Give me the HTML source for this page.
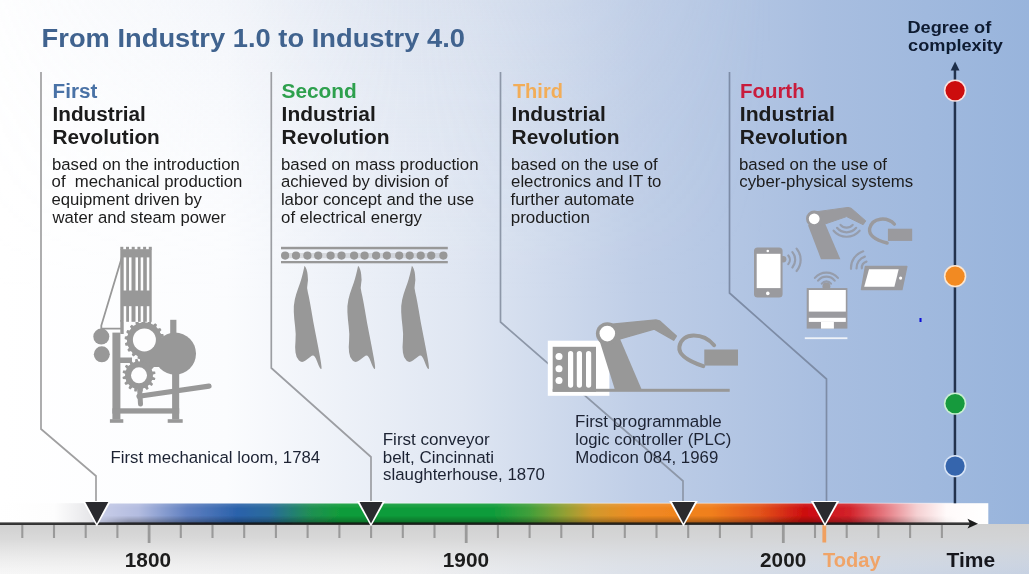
<!DOCTYPE html>
<html>
<head>
<meta charset="utf-8">
<title>From Industry 1.0 to Industry 4.0</title>
<style>
html,body{margin:0;padding:0;background:#fff;}
body{width:1029px;height:574px;overflow:hidden;font-family:"Liberation Sans",sans-serif;}
svg{display:block;}
text{font-family:"Liberation Sans",sans-serif;}
.h{font-weight:bold;font-size:19.5px;}
.b{font-size:16.7px;fill:#1c1c1c;}
.c{font-size:16.7px;fill:#1c2333;}
.ttl{font-weight:bold;font-size:25.4px;fill:#41638f;}
.ax{font-weight:bold;font-size:16.4px;fill:#0f1a30;}
.yr{font-weight:bold;font-size:20px;fill:#1a1a1a;}
</style>
</head>
<body>
<svg width="1029" height="574" viewBox="0 0 1029 574">
<defs>
  <linearGradient id="bgH" x1="0" y1="0" x2="1" y2="0">
    <stop offset="0" stop-color="#ffffff"/>
    <stop offset="0.22" stop-color="#fbfcfe"/>
    <stop offset="0.45" stop-color="#dfe6f2"/>
    <stop offset="0.62" stop-color="#bfcee7"/>
    <stop offset="0.8" stop-color="#a8bee0"/>
    <stop offset="1" stop-color="#98b4dc"/>
  </linearGradient>
  <linearGradient id="bgV" x1="0" y1="0" x2="0" y2="1">
    <stop offset="0" stop-color="#ccd6e8" stop-opacity="0.3"/>
    <stop offset="0.4" stop-color="#d8e0ee" stop-opacity="0.15"/>
    <stop offset="1" stop-color="#ffffff" stop-opacity="0"/>
  </linearGradient>
  <linearGradient id="bgVm" x1="0" y1="0" x2="1" y2="0">
    <stop offset="0" stop-color="#fff" stop-opacity="0.12"/>
    <stop offset="0.15" stop-color="#fff" stop-opacity="0.35"/>
    <stop offset="0.4" stop-color="#fff" stop-opacity="1"/>
    <stop offset="0.55" stop-color="#fff" stop-opacity="0.6"/>
    <stop offset="0.75" stop-color="#fff" stop-opacity="0"/>
  </linearGradient>
  <mask id="leftMask"><rect x="0" y="0" width="1029" height="574" fill="url(#bgVm)"/></mask>
  <linearGradient id="bot" x1="0" y1="0" x2="1" y2="0">
    <stop offset="0" stop-color="#f7f7f7"/>
    <stop offset="0.4" stop-color="#f0f0f1"/>
    <stop offset="0.6" stop-color="#dde2ea"/>
    <stop offset="1" stop-color="#c6d1e2"/>
  </linearGradient>
  <linearGradient id="botR" x1="0" y1="0" x2="0" y2="1">
    <stop offset="0" stop-color="#d0d0d0" stop-opacity="1"/>
    <stop offset="0.3" stop-color="#d4d4d4" stop-opacity="0.85"/>
    <stop offset="0.7" stop-color="#dadada" stop-opacity="0.35"/>
    <stop offset="1" stop-color="#e0e0e0" stop-opacity="0"/>
  </linearGradient>
  <linearGradient id="bar" gradientUnits="userSpaceOnUse" x1="0" y1="0" x2="988" y2="0">
    <stop offset="0" stop-color="#ffffff"/>
    <stop offset="0.055" stop-color="#fdfdfd"/>
    <stop offset="0.092" stop-color="#e6e6e9"/>
    <stop offset="0.1" stop-color="#c9cee8"/>
    <stop offset="0.14" stop-color="#b3bce0"/>
    <stop offset="0.19" stop-color="#5f7fc0"/>
    <stop offset="0.24" stop-color="#2b62ab"/>
    <stop offset="0.272" stop-color="#2a6a9c"/>
    <stop offset="0.315" stop-color="#1f9052"/>
    <stop offset="0.345" stop-color="#109c3a"/>
    <stop offset="0.50" stop-color="#109c3a"/>
    <stop offset="0.535" stop-color="#3f9f3a"/>
    <stop offset="0.57" stop-color="#8fa034"/>
    <stop offset="0.60" stop-color="#d2992c"/>
    <stop offset="0.645" stop-color="#f08a22"/>
    <stop offset="0.72" stop-color="#f07f1c"/>
    <stop offset="0.77" stop-color="#e2521a"/>
    <stop offset="0.815" stop-color="#cc0c10"/>
    <stop offset="0.86" stop-color="#d2222a"/>
    <stop offset="0.895" stop-color="#e57880"/>
    <stop offset="0.928" stop-color="#f5d0d2"/>
    <stop offset="0.958" stop-color="#fffafa"/>
    <stop offset="1" stop-color="#ffffff"/>
  </linearGradient>
  <linearGradient id="barShade" x1="0" y1="0" x2="0" y2="1">
    <stop offset="0" stop-color="#fff" stop-opacity="0.12"/>
    <stop offset="0.25" stop-color="#fff" stop-opacity="0"/>
    <stop offset="0.6" stop-color="#000" stop-opacity="0"/>
    <stop offset="1" stop-color="#000" stop-opacity="0.35"/>
  </linearGradient>
  <linearGradient id="shadeM" gradientUnits="userSpaceOnUse" x1="0" y1="0" x2="988" y2="0">
    <stop offset="0.09" stop-color="#fff" stop-opacity="0"/>
    <stop offset="0.13" stop-color="#fff" stop-opacity="1"/>
    <stop offset="0.88" stop-color="#fff" stop-opacity="1"/>
    <stop offset="0.97" stop-color="#fff" stop-opacity="0"/>
  </linearGradient>
  <mask id="shadeMask" maskUnits="userSpaceOnUse" x="0" y="490" width="1029" height="50"><rect x="0" y="490" width="1029" height="50" fill="url(#shadeM)"/></mask>
  <filter id="soft" filterUnits="userSpaceOnUse" x="-20" y="-20" width="1069" height="614">
    <feGaussianBlur stdDeviation="0.55"/>
  </filter>
</defs>

<!-- background -->
<rect x="0" y="0" width="1029" height="574" fill="url(#bgH)"/>
<rect x="0" y="0" width="1029" height="300" fill="url(#bgV)" mask="url(#leftMask)"/>

<g filter="url(#soft)">
<!-- bottom strip -->
<rect x="-10" y="524" width="1049" height="60" fill="url(#bot)"/>
<rect x="-10" y="524" width="1049" height="50" fill="url(#botR)"/>

<!-- SEPARATORS -->
<g id="seps" fill="none" stroke-width="1.7">
  <polyline points="41,72 41,429 96,476 96,503" stroke="#a0a0a1"/>
  <polyline points="271.3,72 271.3,368 371,457 371,503" stroke="#9c9ea3"/>
  <polyline points="500.5,72 500.5,322 683,481 683,503" stroke="#8d97a8"/>
  <polyline points="729.5,72 729.5,293 826.5,379 826.5,503" stroke="#7d8ca6"/>
</g>

<!-- TIMELINE -->
<g id="timeline">
  <rect x="-10" y="503.2" width="998.3" height="20.8" fill="url(#bar)"/>
  <rect x="80" y="503.2" width="900" height="20.8" fill="url(#barShade)" mask="url(#shadeMask)"/>
  <rect x="96" y="502.7" width="860" height="1.2" fill="#ffffff" fill-opacity="0.4"/>
  <rect x="-10" y="522.4" width="982" height="2.6" fill="#161616" fill-opacity="0.85"/>
  <polygon points="978,523.7 967.5,518.8 970,523.7 967.5,528.6" fill="#1f1f1f"/>
</g>

<!-- TICKS -->
<g id="ticks" stroke="#9a9a9a" stroke-width="2.1">
  <line x1="22.3" y1="525" x2="22.3" y2="538"/>
  <line x1="54.0" y1="525" x2="54.0" y2="538"/>
  <line x1="85.7" y1="525" x2="85.7" y2="538"/>
  <line x1="117.4" y1="525" x2="117.4" y2="538"/>
  <line x1="149.1" y1="525" x2="149.1" y2="543" stroke-width="2.8"/>
  <line x1="180.8" y1="525" x2="180.8" y2="538"/>
  <line x1="212.5" y1="525" x2="212.5" y2="538"/>
  <line x1="244.2" y1="525" x2="244.2" y2="538"/>
  <line x1="275.9" y1="525" x2="275.9" y2="538"/>
  <line x1="307.6" y1="525" x2="307.6" y2="538"/>
  <line x1="339.4" y1="525" x2="339.4" y2="538"/>
  <line x1="371.1" y1="525" x2="371.1" y2="538"/>
  <line x1="402.8" y1="525" x2="402.8" y2="538"/>
  <line x1="434.5" y1="525" x2="434.5" y2="538"/>
  <line x1="466.2" y1="525" x2="466.2" y2="543" stroke-width="2.8"/>
  <line x1="497.9" y1="525" x2="497.9" y2="538"/>
  <line x1="529.6" y1="525" x2="529.6" y2="538"/>
  <line x1="561.3" y1="525" x2="561.3" y2="538"/>
  <line x1="593.0" y1="525" x2="593.0" y2="538"/>
  <line x1="624.8" y1="525" x2="624.8" y2="538"/>
  <line x1="656.5" y1="525" x2="656.5" y2="538"/>
  <line x1="688.2" y1="525" x2="688.2" y2="538"/>
  <line x1="719.9" y1="525" x2="719.9" y2="538"/>
  <line x1="751.6" y1="525" x2="751.6" y2="538"/>
  <line x1="783.3" y1="525" x2="783.3" y2="543" stroke-width="2.8"/>
  <line x1="815.0" y1="525" x2="815.0" y2="538"/>
  <line x1="846.7" y1="525" x2="846.7" y2="538"/>
  <line x1="878.4" y1="525" x2="878.4" y2="538"/>
  <line x1="910.1" y1="525" x2="910.1" y2="538"/>
  <line x1="941.9" y1="525" x2="941.9" y2="538"/>
  <line x1="824.3" y1="525" x2="824.3" y2="542.5" stroke="#f0a060" stroke-width="3.8"/>
</g>

<!-- TRIANGLES -->
<g id="tris">
  <polygon points="82.5,501 111.1,501 96.8,526.6" fill="#ffffff"/>
  <polygon points="85.3,501.9 108.3,501.9 96.8,523.6" fill="#2a2a2e"/>
  <polygon points="356.7,501 385.3,501 371.0,526.6" fill="#ffffff"/>
  <polygon points="359.5,501.9 382.5,501.9 371.0,523.6" fill="#2a2a2e"/>
  <polygon points="669.2,501 697.8,501 683.5,526.6" fill="#ffffff"/>
  <polygon points="672.0,501.9 695.0,501.9 683.5,523.6" fill="#2a2a2e"/>
  <polygon points="810.7,501 839.3,501 825.0,526.6" fill="#ffffff"/>
  <polygon points="813.5,501.9 836.5,501.9 825.0,523.6" fill="#2a2a2e"/>
</g>

<!-- AXIS -->
<g id="axis">
  <rect x="953.7" y="68" width="2.5" height="435.3" fill="#22324e"/>
  <polygon points="955.1,61.5 950.7,70.5 959.5,70.5" fill="#1f2e4a"/>
  <circle cx="955.1" cy="90.6" r="11.2" fill="#fbe3e0"/><circle cx="955.1" cy="90.6" r="9.6" fill="#cc0a10"/>
  <circle cx="955.1" cy="276.2" r="11.2" fill="#fde6cf"/><circle cx="955.1" cy="276.2" r="9.6" fill="#f28a22"/>
  <circle cx="955.1" cy="403.6" r="11.2" fill="#c9efd2"/><circle cx="955.1" cy="403.6" r="9.6" fill="#149a3c"/>
  <circle cx="955.1" cy="466.1" r="11.2" fill="#d8e4f6"/><circle cx="955.1" cy="466.1" r="9.6" fill="#3565ad"/>
  <rect x="919.5" y="318" width="2" height="4" fill="#0a0ad8"/>
</g>

<!-- TEXT -->
<g id="texts">
  <text x="41.6" y="47.4" class="ttl" textLength="423.4" lengthAdjust="spacingAndGlyphs">From Industry 1.0 to Industry 4.0</text>
  <text x="52.5" y="97.8" class="h" textLength="44.9" lengthAdjust="spacingAndGlyphs" style="fill:#4a72a6">First</text>
  <text x="52.5" y="121.0" class="h" textLength="93.3" lengthAdjust="spacingAndGlyphs" style="fill:#1a1a1a">Industrial</text>
  <text x="52.5" y="144.4" class="h" textLength="107.3" lengthAdjust="spacingAndGlyphs" style="fill:#1a1a1a">Revolution</text>
  <text x="52.0" y="169.8" class="b" textLength="187.9" lengthAdjust="spacingAndGlyphs">based on the introduction</text>
  <text x="51.6" y="187.4" class="b" textLength="190.8" lengthAdjust="spacingAndGlyphs">of  mechanical production</text>
  <text x="51.5" y="205.0" class="b" textLength="150.4" lengthAdjust="spacingAndGlyphs">equipment driven by</text>
  <text x="52.5" y="222.6" class="b" textLength="173.3" lengthAdjust="spacingAndGlyphs">water and steam power</text>
  <text x="281.5" y="97.8" class="h" textLength="75.3" lengthAdjust="spacingAndGlyphs" style="fill:#2da04e">Second</text>
  <text x="281.6" y="121.0" class="h" textLength="94.2" lengthAdjust="spacingAndGlyphs" style="fill:#1a1a1a">Industrial</text>
  <text x="281.6" y="144.4" class="h" textLength="108.0" lengthAdjust="spacingAndGlyphs" style="fill:#1a1a1a">Revolution</text>
  <text x="280.9" y="169.8" class="b" textLength="197.7" lengthAdjust="spacingAndGlyphs">based on mass production</text>
  <text x="281.0" y="187.4" class="b" textLength="167.5" lengthAdjust="spacingAndGlyphs">achieved by division of</text>
  <text x="280.9" y="205.0" class="b" textLength="193.3" lengthAdjust="spacingAndGlyphs">labor concept and the use</text>
  <text x="281.1" y="222.6" class="b" textLength="140.9" lengthAdjust="spacingAndGlyphs">of electrical energy</text>
  <text x="512.9" y="97.8" class="h" textLength="50.0" lengthAdjust="spacingAndGlyphs" style="fill:#f2ad58">Third</text>
  <text x="511.6" y="121.0" class="h" textLength="94.2" lengthAdjust="spacingAndGlyphs" style="fill:#1a1a1a">Industrial</text>
  <text x="511.6" y="144.4" class="h" textLength="108.0" lengthAdjust="spacingAndGlyphs" style="fill:#1a1a1a">Revolution</text>
  <text x="510.9" y="169.8" class="b" textLength="146.8" lengthAdjust="spacingAndGlyphs">based on the use of</text>
  <text x="511.1" y="187.4" class="b" textLength="150.3" lengthAdjust="spacingAndGlyphs">electronics and IT to</text>
  <text x="510.5" y="205.0" class="b" textLength="123.8" lengthAdjust="spacingAndGlyphs">further automate</text>
  <text x="510.7" y="222.6" class="b" textLength="79.3" lengthAdjust="spacingAndGlyphs">production</text>
  <text x="739.9" y="97.8" class="h" textLength="64.8" lengthAdjust="spacingAndGlyphs" style="fill:#c81e3c">Fourth</text>
  <text x="739.8" y="121.0" class="h" textLength="95.2" lengthAdjust="spacingAndGlyphs" style="fill:#1a1a1a">Industrial</text>
  <text x="739.8" y="144.4" class="h" textLength="107.9" lengthAdjust="spacingAndGlyphs" style="fill:#1a1a1a">Revolution</text>
  <text x="739.0" y="169.8" class="b" textLength="148.0" lengthAdjust="spacingAndGlyphs">based on the use of</text>
  <text x="739.3" y="187.4" class="b" textLength="173.9" lengthAdjust="spacingAndGlyphs">cyber-physical systems</text>
  <text x="110.5" y="462.8" class="c" textLength="209.6" lengthAdjust="spacingAndGlyphs">First mechanical loom, 1784</text>
  <text x="382.7" y="445.0" class="c" textLength="107.1" lengthAdjust="spacingAndGlyphs">First conveyor</text>
  <text x="382.7" y="462.6" class="c" textLength="111.4" lengthAdjust="spacingAndGlyphs">belt, Cincinnati</text>
  <text x="383.1" y="480.3" class="c" textLength="161.8" lengthAdjust="spacingAndGlyphs">slaughterhouse, 1870</text>
  <text x="575.1" y="427.3" class="c" textLength="146.7" lengthAdjust="spacingAndGlyphs">First programmable</text>
  <text x="575.3" y="445.0" class="c" textLength="156.1" lengthAdjust="spacingAndGlyphs">logic controller (PLC)</text>
  <text x="575.2" y="462.6" class="c" textLength="143.1" lengthAdjust="spacingAndGlyphs">Modicon 084, 1969</text>
  <text x="907.4" y="32.8" class="ax" textLength="83.9" lengthAdjust="spacingAndGlyphs">Degree of</text>
  <text x="908.1" y="51.0" class="ax" textLength="94.8" lengthAdjust="spacingAndGlyphs">complexity</text>
  <text x="124.8" y="567.2" class="yr" textLength="46.2" lengthAdjust="spacingAndGlyphs">1800</text>
  <text x="442.8" y="567.2" class="yr" textLength="46.3" lengthAdjust="spacingAndGlyphs">1900</text>
  <text x="760.1" y="567.2" class="yr" textLength="46.1" lengthAdjust="spacingAndGlyphs">2000</text>
  <text x="823.0" y="567.2" class="yr" textLength="57.6" lengthAdjust="spacingAndGlyphs" style="fill:#f0a468">Today</text>
  <text x="946.6" y="567.2" class="yr" textLength="48.6" lengthAdjust="spacingAndGlyphs" style="fill:#14161c">Time</text>
</g>

<!-- ICONS -->
<g id="icons">
<g id="loom">
  <g fill="#989898">
  <rect x="120.3" y="249.2" width="31.4" height="72.6"/>
  <rect x="120.3" y="246.8" width="3.0" height="3"/>
  <rect x="126.0" y="246.8" width="3.0" height="3"/>
  <rect x="131.7" y="246.8" width="3.0" height="3"/>
  <rect x="137.4" y="246.8" width="3.0" height="3"/>
  <rect x="143.1" y="246.8" width="3.0" height="3"/>
  <rect x="148.8" y="246.8" width="3.0" height="3"/>
  <rect x="120.3" y="320" width="3.4" height="14"/>
  <path d="M121.8,257.5 L101.3,325.6 L101.3,328.6 L121,328.6" fill="none" stroke="#989898" stroke-width="1.8"/>
  <circle cx="101.3" cy="336.6" r="8"/><circle cx="101.8" cy="354.3" r="8"/>
  <rect x="112.4" y="332.6" width="8" height="87"/>
  <rect x="118" y="357.5" width="14" height="5.5"/>
  <polygon points="161.6,339.9 164.2,340.9 163.9,343.3 161.2,343.8 160.6,345.8 162.6,347.6 161.5,349.8 158.8,349.3 157.6,351.0 158.9,353.4 157.1,355.1 154.8,353.6 153.0,354.8 153.4,357.5 151.2,358.5 149.4,356.3 147.4,356.8 146.8,359.6 144.4,359.7 143.5,357.1 141.4,356.8 139.9,359.2 137.6,358.5 137.7,355.7 135.8,354.8 133.6,356.5 131.7,355.1 132.7,352.5 131.2,351.0 128.6,351.8 127.3,349.8 129.1,347.7 128.2,345.8 125.5,345.7 124.9,343.3 127.3,342.0 127.2,339.9 124.6,338.9 124.9,336.5 127.6,336.0 128.2,334.0 126.2,332.2 127.3,330.0 130.0,330.5 131.2,328.8 129.9,326.4 131.7,324.7 134.0,326.2 135.8,325.0 135.4,322.3 137.6,321.3 139.4,323.5 141.4,323.0 142.0,320.2 144.4,320.1 145.3,322.7 147.4,323.0 148.9,320.6 151.2,321.3 151.1,324.1 153.0,325.0 155.2,323.3 157.1,324.7 156.1,327.3 157.6,328.8 160.2,328.0 161.5,330.0 159.7,332.1 160.6,334.0 163.3,334.1 163.9,336.5 161.5,337.8"/>
  <circle cx="144.4" cy="339.9" r="17.4"/>
  <circle cx="175" cy="353.6" r="21"/>
  <rect x="170.2" y="319.8" width="6.2" height="16"/>
  <rect x="140" y="345" width="30" height="22"/>
  <polygon points="152.5,376.7 155.4,377.9 154.9,380.1 151.8,380.0 151.0,381.7 153.1,384.0 151.8,385.9 149.0,384.5 147.6,385.8 148.7,388.7 146.8,390.0 144.7,387.7 142.9,388.3 142.8,391.4 140.6,391.8 139.5,388.9 137.6,388.8 136.4,391.7 134.2,391.2 134.3,388.1 132.6,387.3 130.3,389.4 128.4,388.1 129.8,385.3 128.5,383.9 125.6,385.0 124.3,383.1 126.6,381.0 126.0,379.2 122.9,379.1 122.5,376.9 125.4,375.8 125.5,373.9 122.6,372.7 123.1,370.5 126.2,370.6 127.0,368.9 124.9,366.6 126.2,364.7 129.0,366.1 130.4,364.8 129.3,361.9 131.2,360.6 133.3,362.9 135.1,362.3 135.2,359.2 137.4,358.8 138.5,361.7 140.4,361.8 141.6,358.9 143.8,359.4 143.7,362.5 145.4,363.3 147.7,361.2 149.6,362.5 148.2,365.3 149.5,366.7 152.4,365.6 153.7,367.5 151.4,369.6 152.0,371.4 155.1,371.5 155.5,373.7 152.6,374.8"/>
  <circle cx="139" cy="375.3" r="13.8"/>
  <rect x="172.1" y="372" width="7.1" height="47.5"/>
  <rect x="112.4" y="408.3" width="66.8" height="5.3"/>
  <rect x="109.9" y="419.2" width="13.4" height="3.6"/><rect x="167.7" y="419.2" width="15" height="3.6"/>
  <line x1="139" y1="396.3" x2="209" y2="386.1" stroke="#989898" stroke-width="5.2" stroke-linecap="round"/>
  <line x1="139.6" y1="388.5" x2="140.5" y2="404" stroke="#989898" stroke-width="5" stroke-linecap="round"/>
  </g>
  <g fill="#fdfdfe">
  <rect x="123.7" y="257.4" width="2.5" height="33.1"/>
  <rect x="123.7" y="306.2" width="2.5" height="15.8"/>
  <rect x="129.0" y="257.4" width="2.5" height="33.1"/>
  <rect x="129.0" y="306.2" width="2.5" height="15.8"/>
  <rect x="135.5" y="257.4" width="2.5" height="33.1"/>
  <rect x="135.5" y="306.2" width="2.5" height="15.8"/>
  <rect x="140.7" y="257.4" width="2.5" height="33.1"/>
  <rect x="140.7" y="306.2" width="2.5" height="15.8"/>
  <rect x="146.8" y="257.4" width="2.5" height="33.1"/>
  <rect x="146.8" y="306.2" width="2.5" height="15.8"/>
  <circle cx="144.4" cy="339.9" r="11.5"/><circle cx="139" cy="375.3" r="8"/>
  </g>
</g>
<g id="conveyor">
  <g fill="#989898">
  <rect x="281" y="246.8" width="166.8" height="2.5"/>
  <rect x="281" y="261" width="166.8" height="2.3"/>
  <rect x="283" y="253" width="162" height="5.2" fill-opacity="0.28"/>
  <circle cx="285.1" cy="255.6" r="4.1"/>
  <circle cx="296" cy="255.6" r="4.1"/>
  <circle cx="307.4" cy="255.6" r="4.1"/>
  <circle cx="318.2" cy="255.6" r="4.1"/>
  <circle cx="330.6" cy="255.6" r="4.1"/>
  <circle cx="341.5" cy="255.6" r="4.1"/>
  <circle cx="354.1" cy="255.6" r="4.1"/>
  <circle cx="364.6" cy="255.6" r="4.1"/>
  <circle cx="376.1" cy="255.6" r="4.1"/>
  <circle cx="386.9" cy="255.6" r="4.1"/>
  <circle cx="399.2" cy="255.6" r="4.1"/>
  <circle cx="409.7" cy="255.6" r="4.1"/>
  <circle cx="420.7" cy="255.6" r="4.1"/>
  <circle cx="431.2" cy="255.6" r="4.1"/>
  <circle cx="443.4" cy="255.6" r="4.1"/>
  <path d="M304.5,265.8 Q306.9,268.4 307.6,274.6 Q308.4,280.7 307.5,284.0 Q306.6,287.2 307.9,292.4 Q309.2,297.7 311.2,309.4 Q313.1,321.2 315.7,334.2 Q318.3,347.3 320.3,358.4 Q322.3,369.5 321.0,369.1 Q319.7,368.7 317.0,361.3 Q314.4,353.8 311.8,355.8 Q309.2,357.8 305.5,360.6 Q301.9,363.5 299.0,360.6 Q296.1,357.8 295.5,352.5 Q294.8,347.3 295.5,340.8 Q296.1,334.2 295.1,326.4 Q294.1,318.6 293.8,312.0 Q293.5,305.5 294.8,299.6 Q296.1,293.8 298.1,288.5 Q300.1,283.3 301.4,278.7 Q302.7,274.2 303.6,270.0 Z"/>
  <path d="M358.1,265.8 Q360.5,268.4 361.2,274.6 Q362.0,280.7 361.1,284.0 Q360.2,287.2 361.5,292.4 Q362.8,297.7 364.8,309.4 Q366.7,321.2 369.3,334.2 Q371.9,347.3 373.9,358.4 Q375.9,369.5 374.6,369.1 Q373.3,368.7 370.6,361.3 Q368.0,353.8 365.4,355.8 Q362.8,357.8 359.1,360.6 Q355.5,363.5 352.6,360.6 Q349.7,357.8 349.1,352.5 Q348.4,347.3 349.1,340.8 Q349.7,334.2 348.7,326.4 Q347.7,318.6 347.4,312.0 Q347.1,305.5 348.4,299.6 Q349.7,293.8 351.7,288.5 Q353.7,283.3 355.0,278.7 Q356.3,274.2 357.2,270.0 Z"/>
  <path d="M411.9,265.8 Q414.3,268.4 415.0,274.6 Q415.8,280.7 414.9,284.0 Q414.0,287.2 415.3,292.4 Q416.6,297.7 418.6,309.4 Q420.5,321.2 423.1,334.2 Q425.7,347.3 427.7,358.4 Q429.7,369.5 428.4,369.1 Q427.1,368.7 424.4,361.3 Q421.8,353.8 419.2,355.8 Q416.6,357.8 412.9,360.6 Q409.3,363.5 406.4,360.6 Q403.5,357.8 402.9,352.5 Q402.2,347.3 402.9,340.8 Q403.5,334.2 402.5,326.4 Q401.5,318.6 401.2,312.0 Q400.9,305.5 402.2,299.6 Q403.5,293.8 405.5,288.5 Q407.5,283.3 408.8,278.7 Q410.1,274.2 411.0,270.0 Z"/>
  </g>
</g>
<g id="plc">
  <rect x="547.8" y="340.7" width="61.6" height="55.1" fill="#ffffff"/>
  <g fill="#989898">
  <rect x="552.7" y="388.8" width="177" height="3"/>
  <rect x="552.7" y="346.8" width="43.3" height="44.9"/>
  <polygon points="599.2,339.7 618.6,335.6 642.0,390.3 615.1,390.3"/>
  <polygon points="609.4,324.4 655.9,320.1 659.4,320.9 676.3,336.0 673.7,340.1 654.3,329.1 618.6,339.3" stroke="#989898" stroke-width="1.5" stroke-linejoin="round"/>
  <circle cx="607.3" cy="333.6" r="11.4"/>
  <rect x="704.3" y="349.5" width="33.7" height="16.1"/>
  </g>
  <path d="M714.1,345.2 C703.3,332.6 681.8,331.5 679.4,346.8 C678.0,356.0 691.0,362.1 703.3,366.2" fill="none" stroke="#989898" stroke-width="4" stroke-linecap="round"/>
  <g fill="#ffffff">
  <circle cx="607.3" cy="333.6" r="7.8"/>
  <circle cx="559" cy="356.4" r="3.5"/>
  <circle cx="559" cy="368.7" r="3.5"/>
  <circle cx="559" cy="380.5" r="3.5"/>
  <rect x="568.0" y="351" width="5.2" height="36.7" rx="2.6"/>
  <rect x="576.8" y="351" width="5.2" height="36.7" rx="2.6"/>
  <rect x="586.0" y="351" width="5.2" height="36.7" rx="2.6"/>
  </g>
</g>
<g id="cps">
  <path d="M788.3,255.5 A6.7,6.7 0 0 1 788.3,264.1" fill="none" stroke="#969dac" stroke-width="2.2" stroke-linecap="round"/>
  <path d="M792.4,252.1 A12.0,12.0 0 0 1 792.4,267.5" fill="none" stroke="#969dac" stroke-width="2.2" stroke-linecap="round"/>
  <path d="M796.6,248.6 A17.5,17.5 0 0 1 796.6,271.0" fill="none" stroke="#969dac" stroke-width="2.2" stroke-linecap="round"/>
  <path d="M852.7,224.9 A8.0,8.0 0 0 1 840.5,224.9" fill="none" stroke="#969dac" stroke-width="2.2" stroke-linecap="round"/>
  <path d="M856.2,227.8 A12.5,12.5 0 0 1 837.0,227.8" fill="none" stroke="#969dac" stroke-width="2.2" stroke-linecap="round"/>
  <path d="M859.6,230.7 A17.0,17.0 0 0 1 833.6,230.7" fill="none" stroke="#969dac" stroke-width="2.2" stroke-linecap="round"/>
  <path d="M861.8,268.3 A6.7,6.7 0 0 1 866.5,261.6" fill="none" stroke="#969dac" stroke-width="2.2" stroke-linecap="round"/>
  <path d="M856.5,268.5 A12.0,12.0 0 0 1 864.9,256.6" fill="none" stroke="#969dac" stroke-width="2.2" stroke-linecap="round"/>
  <path d="M851.0,268.8 A17.5,17.5 0 0 1 863.2,251.3" fill="none" stroke="#969dac" stroke-width="2.2" stroke-linecap="round"/>
  <path d="M821.8,283.6 A6.0,6.0 0 0 1 831.0,283.6" fill="none" stroke="#969dac" stroke-width="2.2" stroke-linecap="round"/>
  <path d="M818.1,280.6 A10.8,10.8 0 0 1 834.7,280.6" fill="none" stroke="#969dac" stroke-width="2.2" stroke-linecap="round"/>
  <path d="M814.9,277.9 A15.0,15.0 0 0 1 837.9,277.9" fill="none" stroke="#969dac" stroke-width="2.2" stroke-linecap="round"/>
  <g fill="#9a9a9e">
  <rect x="754" y="247.6" width="28.6" height="50" rx="3.5"/>
  <polygon points="808.0,225.2 824.2,221.5 840.4,259.2 821.0,259.2"/>
  <polygon points="816.9,211.7 848.0,207.4 851.2,208.2 865.8,220.9 863.1,224.7 846.6,216.6 821.5,225.2" stroke="#9a9a9e" stroke-width="1" stroke-linejoin="round"/>
  <circle cx="814.2" cy="218.8" r="8.2"/>
  <rect x="887.9" y="228.7" width="24.3" height="12.2"/>
  <polygon points="865.5,266.5 906.8,266.5 901.9,289.5 861.5,289.5" stroke="#9a9a9e" stroke-width="1.5" stroke-linejoin="round"/>
  <rect x="806.7" y="288.1" width="40.7" height="40.5"/>
  <circle cx="826.4" cy="286.5" r="4"/>
  <circle cx="783.2" cy="259.3" r="3.2"/>
  </g>
  <path d="M894.4,224.1 C887.1,216.6 872.3,217.1 869.6,228.7 C868.5,236.8 879.0,240.9 887.1,243.0" fill="none" stroke="#9a9a9e" stroke-width="3.4" stroke-linecap="round"/>
  <g fill="#ffffff">
  <rect x="756.7" y="253.8" width="23.8" height="34.3"/>
  <circle cx="767.8" cy="251" r="1.3"/><circle cx="767.8" cy="293.4" r="1.8"/>
  <circle cx="814.2" cy="218.8" r="5.4"/>
  <polygon points="869.0,269.2 898.7,269.2 894.4,286.8 864.2,286.8"/>
  <circle cx="900.6" cy="278.1" r="1.6"/>
  <rect x="808.8" y="290" width="37" height="21.6"/>
  <rect x="808.8" y="317.8" width="37" height="4.1"/>
  <rect x="821" y="321.9" width="12.9" height="6.7"/>
  <rect x="804.8" y="337.3" width="42.6" height="1.8" fill="#eef2f8"/>
  </g>
</g>
</g>
</g>
</svg>
</body>
</html>
